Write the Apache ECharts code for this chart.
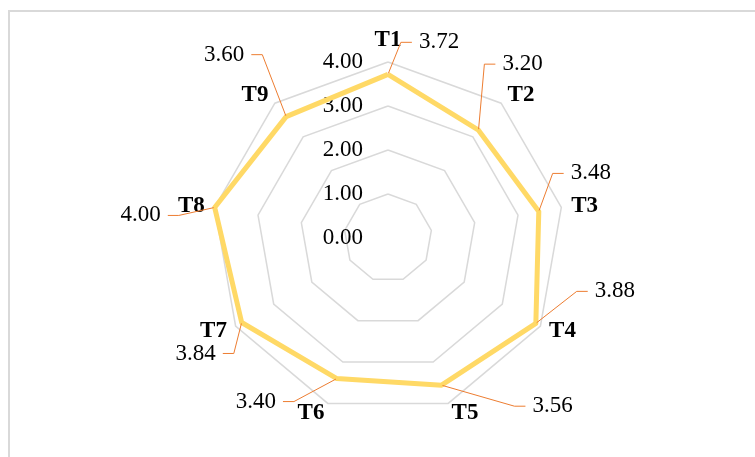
<!DOCTYPE html>
<html><head><meta charset="utf-8">
<script src="https://cdn.jsdelivr.net/npm/echarts@6/dist/echarts.min.js"></script>
<style>html,body{margin:0;padding:0;background:#fff}#c{width:755px;height:457px}</style>
</head><body><div id="c"></div>
<script>
// ---- data ----
const categories = ['T1', 'T2', 'T3', 'T4', 'T5', 'T6', 'T7', 'T8', 'T9'];
const values = [3.72, 3.20, 3.48, 3.88, 3.56, 3.40, 3.84, 4.00, 3.60];
const axisTicks = [0, 1, 2, 3, 4];

// ---- layout (not data) ----
const CX = 388, CY = 238, R = 176;
// offset of each value label centre from its point, in category order T1..T9
const labelOffsets = [[51, -32], [44, -66], [52, -38], [79, -32], [111, 21], [-81, 23], [-46, 31], [-74, 8], [-62, -62]];
// extra invisible right padding per label (steers the leader line to the label's side)
const labelExtraRight = [0, 30, 0, 0, 0, 0, 0, 0, 0];
const FONT = 'Liberation Serif, Times New Roman, serif';

// ECharts radar runs counter-clockwise; reverse the order so T1..T9 run clockwise from the top
const n = categories.length;
const order = categories.map((_, i) => (n - i) % n);
const indicator = order.map((k, j) => {
  const ind = { name: categories[k], min: axisTicks[0], max: axisTicks[axisTicks.length - 1] };
  if (j === 0) ind.axisLabel = { show: true };
  return ind;
});
const seriesValues = order.map(k => values[k]);

const chart = echarts.init(document.getElementById('c'), null, { renderer: 'canvas' });
chart.setOption({
  animation: false,
  backgroundColor: '#ffffff',
  graphic: [{
    type: 'rect', silent: true, z: -10,
    shape: { x: 9, y: 11, width: 900, height: 600 },
    style: { fill: 'none', stroke: '#d9d9d9', lineWidth: 2 }
  }],
  radar: {
    center: [CX, CY],
    radius: R,
    startAngle: 90,
    shape: 'polygon',
    splitNumber: axisTicks.length - 1,
    nameGap: 10,
    axisName: { color: '#000', fontWeight: 'bold', fontSize: 23, fontFamily: FONT },
    axisLine: { show: false },
    axisTick: { show: false },
    splitArea: { show: false },
    splitLine: { lineStyle: { color: '#d9d9d9', width: 1.5 } },
    axisLabel: {
      show: false, color: '#000', fontSize: 23, fontFamily: FONT, margin: 25,
      showMinLabel: true, showMaxLabel: true,
      formatter: v => Number(v).toFixed(2)
    },
    indicator: indicator
  },
  series: [{
    type: 'radar',
    symbol: 'circle',
    symbolSize: 2,
    itemStyle: { color: 'rgba(0,0,0,0)' },
    lineStyle: { color: '#ffd966', width: 5 },
    emphasis: { disabled: true },
    label: {
      show: true, position: 'inside', color: '#000', fontSize: 23, fontFamily: FONT,
      backgroundColor: 'rgba(255,255,255,0)', padding: [0, 7, 0, 7],
      formatter: p => {
        const k = values.indexOf(p.value);
        const txt = Number(p.value).toFixed(2);
        return labelExtraRight[k] ? '{e|' + txt + '}' : txt;
      },
      rich: {
        e: { color: '#000', fontSize: 23, fontFamily: FONT, padding: [0, labelExtraRight[1], 0, 0] }
      }
    },
    labelLine: { show: true, length2: 11, lineStyle: { color: '#ed7d31', width: 1 } },
    labelLayout: function (p) {
      const px = p.rect.x + p.rect.width / 2, py = p.rect.y + p.rect.height / 2;
      let ang = Math.atan2(px - CX, -(py - CY)) * 180 / Math.PI;
      if (ang < 0) ang += 360;
      const k = Math.round(ang / (360 / n)) % n;
      const o = labelOffsets[k];
      return { dx: o[0] + labelExtraRight[k] / 2, dy: o[1] };
    },
    data: [{ value: seriesValues, name: 'score' }]
  }]
});
</script>
</body></html>
